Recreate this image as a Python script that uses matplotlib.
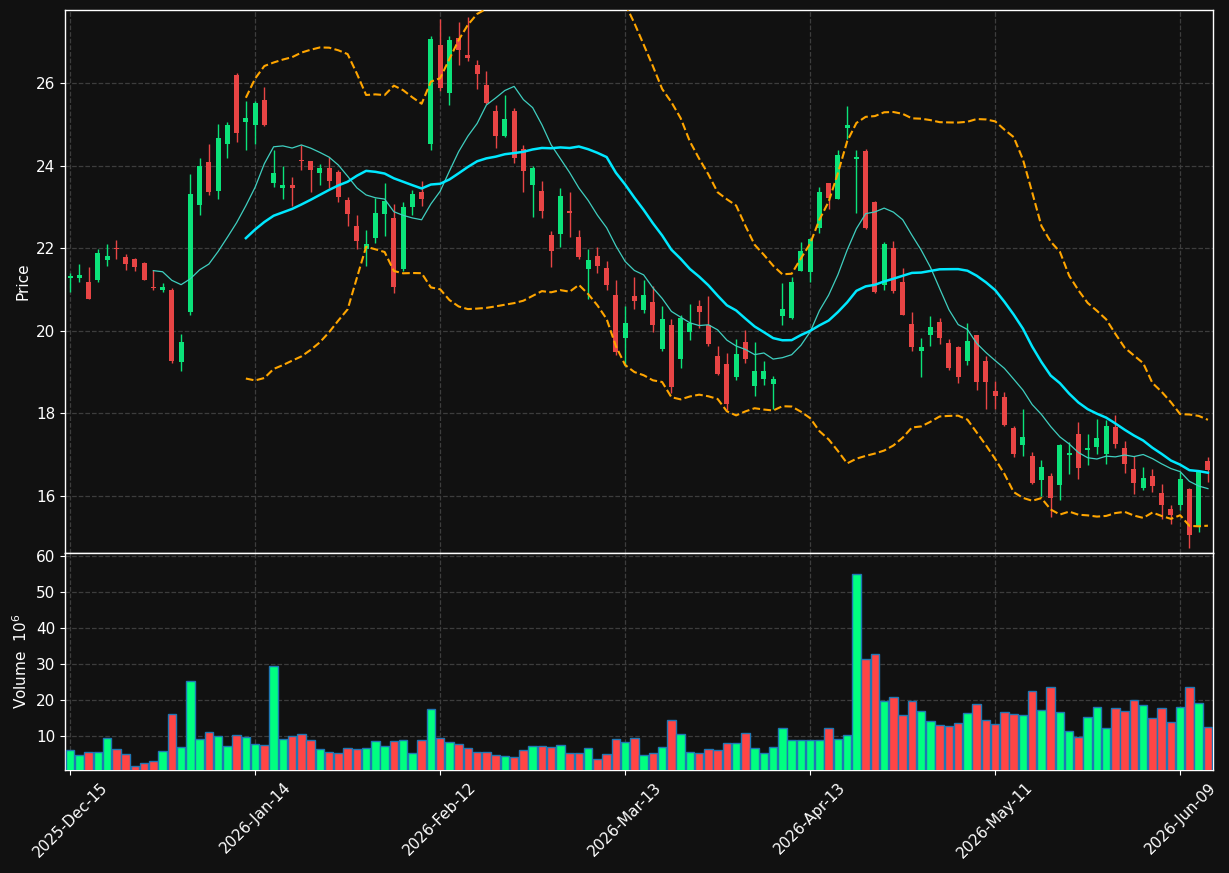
import numpy as np
import pandas as pd
import matplotlib
matplotlib.use('Agg')
import matplotlib.pyplot as plt

# OHLC, one entry per trading day (index 0 = 2025-Dec-15)
opens = [21.29, 21.27, 21.18, 21.24, 21.72, 22.00, 21.78, 21.74, 21.64, 21.06,
         20.98, 20.98, 19.25, 20.46, 23.04, 24.08, 23.38, 24.52, 26.20, 25.05,
         24.98, 25.58, 23.58, 23.46, 23.54, 24.13, 24.10, 23.82, 23.95, 23.84,
         23.16, 22.54, 21.97, 22.25, 22.83, 22.73, 21.49, 23.00, 23.37, 24.52,
         26.92, 25.77, 27.09, 26.68, 26.44, 25.96, 25.33, 24.71, 25.33, 24.41,
         23.53, 23.38, 22.33, 22.35, 22.90, 22.27, 21.50, 21.81, 21.52, 20.87,
         19.83, 20.84, 20.51, 20.70, 19.55, 20.13, 19.31, 19.98, 20.60, 20.15,
         19.40, 19.20, 18.87, 19.73, 18.66, 18.84, 18.70, 20.36, 20.30, 21.45,
         21.43, 22.48, 23.57, 23.19, 24.92, 24.15, 24.36, 23.13, 21.12, 22.00,
         21.18, 20.17, 19.51, 19.89, 20.21, 19.71, 19.61, 19.27, 19.89, 19.27,
         18.54, 18.40, 17.65, 17.23, 16.98, 16.38, 16.48, 16.27, 16.99, 17.51,
         17.11, 17.19, 17.01, 17.68, 17.17, 16.65, 16.19, 16.49, 16.08, 15.69,
         15.79, 16.18, 15.24, 16.84]
highs = [21.41, 21.62, 21.55, 21.98, 22.10, 22.19, 21.87, 21.76, 21.66, 21.47,
         21.15, 21.03, 19.92, 23.80, 24.19, 24.53, 25.02, 25.06, 26.25, 25.56,
         25.56, 25.90, 24.39, 24.00, 23.73, 24.49, 24.11, 24.03, 24.20, 23.89,
         23.24, 22.80, 22.45, 23.21, 23.57, 23.08, 23.13, 23.42, 23.63, 27.13,
         27.56, 27.15, 27.49, 27.59, 26.55, 26.28, 25.48, 25.71, 25.40, 24.50,
         24.00, 23.62, 22.41, 23.45, 23.37, 22.43, 21.99, 22.02, 21.70, 21.24,
         20.61, 21.30, 21.22, 21.09, 20.61, 20.28, 20.38, 20.66, 20.74, 20.84,
         19.63, 19.46, 19.79, 20.01, 19.72, 19.27, 18.91, 21.16, 21.30, 22.14,
         22.25, 23.48, 23.58, 24.37, 25.45, 24.37, 24.41, 23.15, 22.16, 22.17,
         21.52, 20.45, 19.82, 20.36, 20.32, 19.79, 19.62, 20.18, 19.90, 19.40,
         18.79, 18.52, 17.69, 18.10, 17.07, 16.86, 16.55, 17.25, 17.30, 17.78,
         17.51, 17.86, 17.83, 17.97, 17.34, 16.96, 16.69, 16.65, 16.29, 15.79,
         16.59, 16.19, 16.58, 16.95]
lows = [20.93, 21.18, 20.76, 21.18, 21.58, 21.75, 21.48, 21.45, 21.22, 20.98,
        20.93, 19.22, 19.02, 20.39, 22.80, 23.30, 23.19, 24.18, 24.57, 24.39,
        24.52, 24.97, 23.48, 23.19, 23.02, 23.90, 23.37, 23.54, 23.47, 23.11,
        22.53, 21.99, 21.58, 22.12, 22.29, 20.91, 21.45, 22.81, 23.03, 24.39,
        25.80, 25.48, 26.43, 26.53, 25.86, 25.50, 24.43, 24.70, 24.07, 23.37,
        22.75, 22.73, 21.54, 22.03, 22.28, 21.75, 20.77, 21.40, 20.98, 19.42,
        19.15, 20.53, 20.42, 19.98, 19.52, 18.50, 19.10, 19.78, 20.07, 19.64,
        18.92, 18.08, 18.81, 19.23, 18.43, 18.68, 18.10, 20.14, 20.29, 21.44,
        21.18, 22.38, 22.94, 23.18, 24.64, 22.86, 22.46, 20.91, 20.99, 20.91,
        20.38, 19.51, 18.89, 19.62, 19.67, 19.06, 18.74, 19.17, 18.56, 18.10,
        18.11, 17.69, 16.94, 16.98, 16.29, 16.00, 15.48, 15.90, 16.53, 16.42,
        16.74, 17.02, 16.78, 17.16, 16.56, 16.04, 16.15, 16.10, 15.45, 15.33,
        15.66, 14.74, 15.12, 16.34]
closes = [21.33, 21.35, 20.78, 21.88, 21.81, 21.97, 21.62, 21.55, 21.24, 21.04,
          21.06, 19.27, 19.73, 23.31, 23.98, 23.36, 24.66, 24.99, 24.78, 25.16,
          25.52, 24.99, 23.81, 23.53, 23.46, 24.11, 23.89, 23.95, 23.63, 23.24,
          22.83, 22.17, 22.09, 22.85, 23.14, 21.05, 23.01, 23.32, 23.19, 27.07,
          25.89, 27.05, 26.81, 26.61, 26.21, 25.52, 24.71, 25.14, 24.18, 23.87,
          23.95, 22.90, 21.94, 23.26, 22.85, 21.78, 21.71, 21.57, 21.12, 19.48,
          20.19, 20.71, 20.87, 20.13, 20.29, 18.63, 20.32, 20.19, 20.46, 19.67,
          18.96, 18.22, 19.44, 19.31, 19.03, 19.03, 18.84, 20.53, 21.18, 21.94,
          22.22, 23.36, 23.21, 24.25, 24.99, 24.21, 22.48, 20.95, 22.10, 20.97,
          20.39, 19.61, 19.61, 20.09, 19.82, 19.10, 18.87, 19.76, 18.75, 18.75,
          18.43, 17.72, 17.01, 17.43, 16.32, 16.71, 15.94, 17.24, 17.05, 16.67,
          17.17, 17.41, 17.70, 17.26, 16.78, 16.32, 16.44, 16.25, 15.77, 15.54,
          16.42, 15.06, 16.57, 16.63]
# volume in millions
volumes = [6.0, 4.7, 5.5, 5.5, 9.4, 6.3, 4.9, 1.5, 2.5, 3.0,
           5.8, 16.0, 6.9, 25.1, 9.1, 11.0, 9.9, 7.2, 10.2, 9.6,
           7.7, 7.4, 29.5, 9.1, 9.9, 10.5, 8.8, 6.3, 5.5, 5.2,
           6.6, 6.3, 6.6, 8.5, 7.2, 8.5, 8.8, 5.2, 8.8, 17.4,
           9.4, 8.3, 7.7, 6.6, 5.5, 5.5, 4.7, 4.4, 4.1, 6.0,
           7.2, 7.2, 6.9, 7.4, 5.2, 5.2, 6.6, 3.6, 4.9, 9.1,
           8.3, 9.4, 4.7, 5.2, 6.9, 14.3, 10.5, 5.5, 5.2, 6.3,
           6.0, 8.0, 8.0, 10.7, 6.6, 5.2, 6.9, 12.1, 8.8, 8.8,
           8.8, 8.8, 12.1, 9.1, 10.2, 54.9, 31.2, 32.8, 19.5, 20.7,
           15.7, 19.6, 16.8, 14.1, 13.0, 12.7, 13.5, 16.3, 18.7, 14.3,
           13.2, 16.5, 16.0, 15.7, 22.3, 17.1, 23.4, 16.5, 11.3, 9.6,
           15.2, 17.9, 12.1, 17.6, 16.8, 19.9, 18.5, 14.9, 17.6, 13.8,
           17.9, 23.4, 19.0, 12.4]

tick_pos = [0, 20, 40, 60, 80, 100, 120]
tick_labels = ['2025-Dec-15', '2026-Jan-14', '2026-Feb-12', '2026-Mar-13',
               '2026-Apr-13', '2026-May-11', '2026-Jun-09']

df = pd.DataFrame({'Open': opens, 'High': highs, 'Low': lows,
                   'Close': closes, 'Volume': volumes})
x = np.arange(len(df))
up = df['Close'] >= df['Open']

# moving averages and bollinger bands
ma10 = df['Close'].rolling(10).mean()
ma20 = df['Close'].rolling(20).mean()
sd20 = df['Close'].rolling(20).std(ddof=0)
bb_up = ma20 + 2 * sd20
bb_lo = ma20 - 2 * sd20

bg = '#111111'
plt.rcParams['font.family'] = 'DejaVu Sans'
plt.rcParams['font.size'] = 11

fig = plt.figure(figsize=(12.29, 8.73), dpi=100, facecolor=bg)
ax = fig.add_axes([0.0529, 0.3666, 0.9341, 0.622])
axv = fig.add_axes([0.0529, 0.1180, 0.9341, 0.2486], sharex=ax)

for a in (ax, axv):
    a.set_facecolor(bg)
    a.grid(True, color='#3d3d3d', linestyle='--', linewidth=0.9)
    a.set_axisbelow(True)
    for s in a.spines.values():
        s.set_color('white')
        s.set_linewidth(1.0)
    a.tick_params(colors='white', labelcolor='white', labelsize=11)

# candles
c_up, c_dn = '#0be37a', '#e84545'
ccol = np.where(up, c_up, c_dn)
ax.vlines(x, df['Low'], df['High'], colors=ccol, linewidth=1.0, zorder=2)
body = (df['Close'] - df['Open']).abs().clip(lower=0.03)
bottom = np.minimum(df['Open'], df['Close'])
ax.bar(x, body, bottom=bottom, width=0.55, color=ccol, linewidth=0, zorder=3)

ax.plot(x, ma10, color='#3fcfc0', linewidth=0.9, zorder=4)
ax.plot(x, ma20, color='#00e8ff', linewidth=1.8, zorder=4)
ax.plot(x, bb_up, color='#ffa500', linewidth=1.5, linestyle='--', zorder=4)
ax.plot(x, bb_lo, color='#ffa500', linewidth=1.5, linestyle='--', zorder=4)

ax.set_ylim(14.62, 27.77)
ax.set_yticks([16, 18, 20, 22, 24, 26])
ax.set_ylabel('Price', color='white', fontsize=11)
ax.tick_params(axis='x', labelbottom=False, length=0)

# volume
vcol = np.where(up, '#00ff80', '#ff4545')
axv.bar(x, df['Volume'], width=0.92, color=vcol, edgecolor='#1f77b4',
        linewidth=1.0, zorder=3)
axv.set_ylim(0.45, 60.8)
axv.set_yticks([10, 20, 30, 40, 50, 60])
axv.set_ylabel('Volume  $10^{6}$', color='white', fontsize=11)

axv.set_xlim(-0.55, len(df) - 0.45)
axv.set_xticks(tick_pos)
axv.set_xticklabels(tick_labels, rotation=45, ha='center', fontsize=11)

fig.savefig('out.png', dpi=100, facecolor=bg)
